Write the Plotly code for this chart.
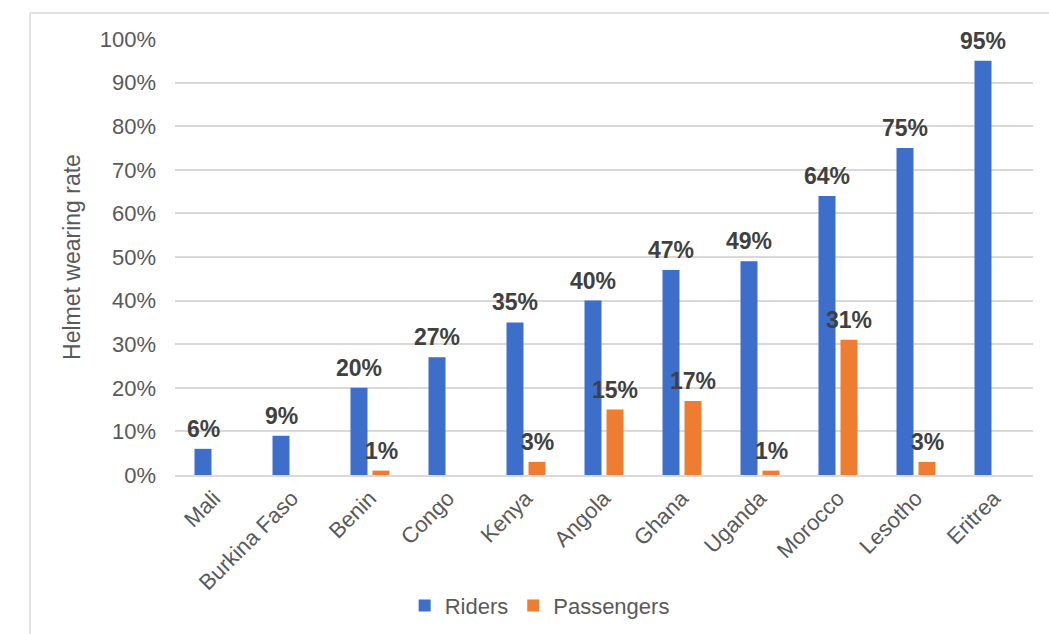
import plotly.graph_objects as go

# Helmet wearing rates by country
countries = ["Mali", "Burkina Faso", "Benin", "Congo", "Kenya", "Angola",
             "Ghana", "Uganda", "Morocco", "Lesotho", "Eritrea"]
riders = [0.06, 0.09, 0.20, 0.27, 0.35, 0.40, 0.47, 0.49, 0.64, 0.75, 0.95]
passengers = [None, None, 0.01, None, 0.03, 0.15, 0.17, 0.01, 0.31, 0.03, None]
y_ticks = [i / 10 for i in range(11)]

BLUE = "#3d6fca"
ORANGE = "#ee7d31"
GRID = "#d9d9d9"
TXT = "#595959"
LBL = "#404040"
FONT = "Liberation Sans, Arial, sans-serif"

idx = list(range(len(countries)))
slot = 0.282   # distance between the two bars of a group (category units)
bar_w = 0.218

fig = go.Figure()
fig.add_trace(go.Bar(
    name="Riders", x=[i - slot / 2 for i in idx], y=riders,
    width=bar_w, marker=dict(color=BLUE, line=dict(width=0)),
))
fig.add_trace(go.Bar(
    name="Passengers", x=[i + slot / 2 for i in idx],
    y=[0 if v is None else v for v in passengers],
    width=bar_w, marker=dict(color=ORANGE, line=dict(width=0)),
))

# value labels above bars
label_font = dict(family=FONT, size=23, color=LBL, weight="bold")
annotations = []
for i, v in zip(idx, riders):
    annotations.append(dict(x=i - slot / 2, y=v, xref="x", yref="y",
                            text=f"{round(v * 100)}%", showarrow=False,
                            yanchor="middle", yshift=20, font=label_font))
for i, v in zip(idx, passengers):
    if v is None:
        continue
    annotations.append(dict(x=i + slot / 2, y=v, xref="x", yref="y",
                            text=f"{round(v * 100)}%", showarrow=False,
                            yanchor="middle", yshift=20, font=label_font))

# light frame around the chart area (left and top edges)
shapes = [
    dict(type="line", xref="paper", yref="paper", x0=-0.169, x1=-0.169,
         y0=-0.40, y1=1.0596, line=dict(color=GRID, width=1.5)),
    dict(type="line", xref="paper", yref="paper", x0=-0.169, x1=1.05,
         y0=1.0596, y1=1.0596, line=dict(color=GRID, width=1.5)),
]

fig.update_layout(
    width=1049, height=634,
    margin=dict(l=175, r=16, t=39, b=159, autoexpand=False),
    paper_bgcolor="white", plot_bgcolor="white",
    barmode="overlay",
    showlegend=True,
    legend=dict(orientation="h", x=0.425, xanchor="center", y=-0.30, yanchor="middle",
                font=dict(family=FONT, size=22, color=TXT),
                itemwidth=30, tracegroupgap=0),
    annotations=annotations,
    shapes=shapes,
    font=dict(family=FONT, color=TXT),
)
fig.update_xaxes(
    range=[-0.5, len(countries) - 0.5],
    tickmode="array", tickvals=idx, ticktext=countries,
    tickangle=-45, tickfont=dict(family=FONT, size=22, color=TXT),
    showgrid=False, showline=True, linecolor=GRID, linewidth=1.5,
    ticks="", zeroline=False, automargin=False,
)
fig.update_yaxes(
    range=[0, 1], tickmode="array", tickvals=y_ticks, tickformat=".0%",
    tickfont=dict(family=FONT, size=22, color=TXT),
    showgrid=True, gridcolor=GRID, gridwidth=1.5,
    zeroline=False, showline=False, ticks="", automargin=False,
    ticklabelstandoff=18,
    title=dict(text="Helmet wearing rate", font=dict(family=FONT, size=23, color=TXT),
               standoff=12),
)

fig.write_html("out.html")
